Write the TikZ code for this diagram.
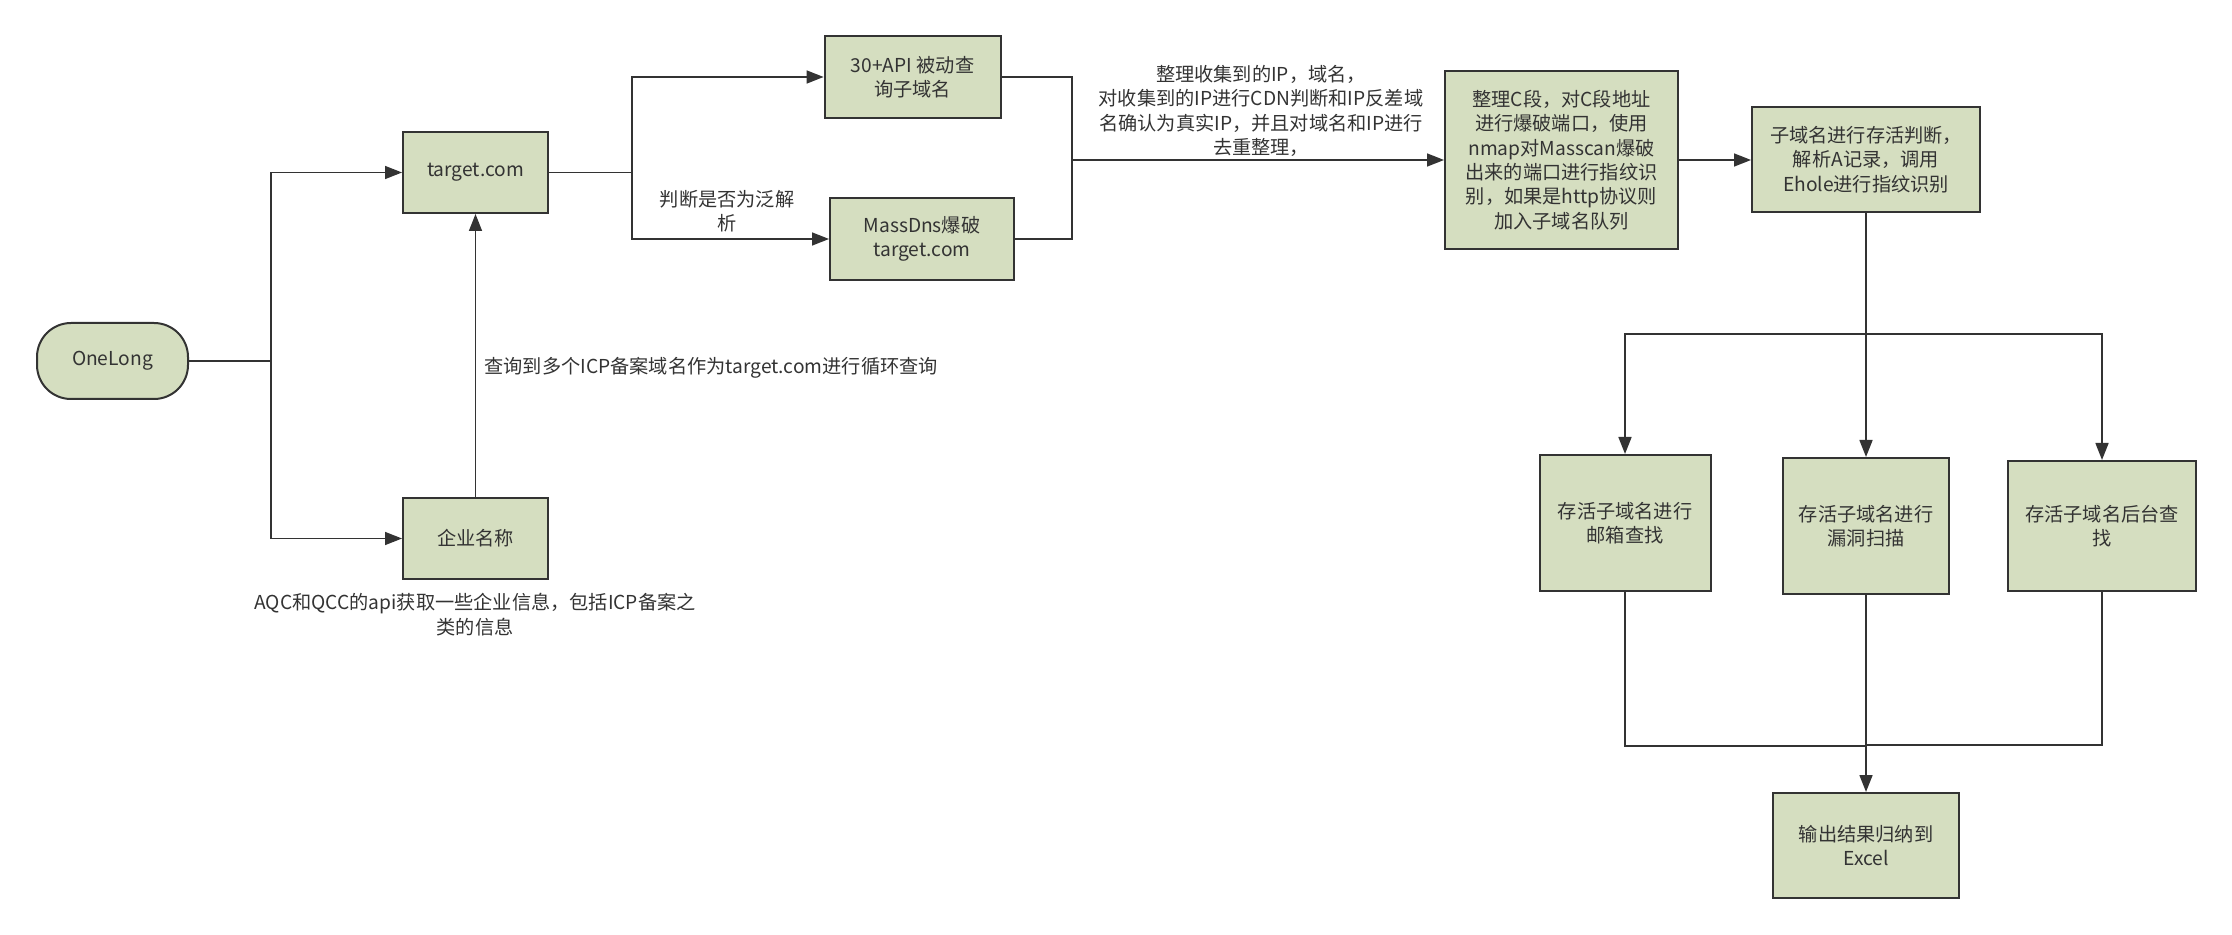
\documentclass[tikz,border=0pt]{standalone}
\usepackage{fontspec}
\setmainfont{Noto Sans CJK SC}
\usetikzlibrary{arrows.meta}
\definecolor{boxfill}{RGB}{213,222,192}
\definecolor{ink}{RGB}{51,51,51}
\begin{document}
\begin{tikzpicture}[x=0.5pt,y=-0.5pt,
  box/.style={draw=ink, line width=1pt, fill=boxfill, inner sep=0pt, align=center, text=ink,
    font=\fontsize{9.6}{12.2}\selectfont},
  conn/.style={draw=ink, line width=0.8pt},
  arr/.style={conn, -{Triangle[length=8.5pt,width=6.5pt]}},
  lbl/.style={text=ink, align=center, inner sep=0pt, font=\fontsize{9.6}{12.2}\selectfont}]
\useasboundingbox (0,0) rectangle (2232,935);

% nodes
\node[box, rounded corners=17pt, minimum width=75.5pt, minimum height=38pt] (one) at (112.5,361) {OneLong};
\node[box, minimum width=72.5pt, minimum height=40.5pt] (target) at (475.5,172.5) {target.com};
\node[box, minimum width=72.5pt, minimum height=40.5pt] (qiye) at (475.5,538.5) {企业名称};
\node[box, minimum width=88pt, minimum height=41pt] (api) at (912.6,77) {30+API 被动查\\询子域名};
\node[box, minimum width=92pt, minimum height=40.75pt] (mass) at (922,239) {MassDns爆破\\target.com};
\node[box, minimum width=116.5pt, minimum height=89pt] (cduan) at (1561.5,160) {整理C段，对C段地址\\进行爆破端口，使用\\nmap对Masscan爆破\\出来的端口进行指纹识\\别，如果是http协议则\\加入子域名队列};
\node[box, minimum width=114pt, minimum height=52.5pt] (alive) at (1866,159.5) {子域名进行存活判断，\\解析A记录，调用\\Ehole进行指纹识别};
\node[box, minimum width=85.5pt, minimum height=68pt] (mail) at (1625,523) {存活子域名进行\\邮箱查找};
\node[box, minimum width=83pt, minimum height=68pt] (vuln) at (1866,526) {存活子域名进行\\漏洞扫描};
\node[box, minimum width=94pt, minimum height=65pt] (admin) at (2102,526) {存活子域名后台查\\找};
\node[box, minimum width=93.25pt, minimum height=52.5pt] (excel) at (1866,845.5) {输出结果归纳到\\Excel};

% labels
\node[lbl, anchor=west] (l1) at (484,368) {查询到多个ICP备案域名作为target.com进行循环查询};
\node[lbl] (l2) at (475,614.5) {AQC和QCC的api获取一些企业信息，包括ICP备案之\\类的信息};
\node[lbl] (l3) at (727,211) {判断是否为泛解\\析};
\node[lbl] (l4) at (1261,111) {整理收集到的IP，域名，\\对收集到的IP进行CDN判断和IP反差域\\名确认为真实IP，并且对域名和IP进行\\去重整理，};

% junctions
\coordinate (j1) at (271,361);
\coordinate (j2) at (632,172.5);
\coordinate (j3) at (1072,160);
\coordinate (j3t) at (1072,77);
\coordinate (j3b) at (1072,239);
\coordinate (j4) at (1866,334);
\coordinate (j5a) at (1625,746);
\coordinate (j5c) at (2102,745);
\coordinate (j5) at (1866,746);
\coordinate (j5d) at (1866,745);

% connectors
\draw[conn] (one.east) -- (j1);
\draw[arr] (j1) |- (target.west);
\draw[arr] (j1) |- (qiye.west);
\draw[arr] (qiye.north) -- (target.south);
\draw[conn] (target.east) -- (j2);
\draw[arr] (j2) |- (api.west);
\draw[arr] (j2) |- (mass.west);
\draw[conn] (api.east) -- (j3t) -- (j3b) -- (mass.east);
\draw[arr] (j3) -- (cduan.west);
\draw[arr] (cduan.east) -- (alive.west |- cduan.east);
\draw[conn] (alive.south) -- (j4);
\draw[arr] (j4) -| (mail.north);
\draw[arr] (j4) -- (vuln.north);
\draw[arr] (j4) -| (admin.north);
\draw[conn] (mail.south) -- (j5a) -- (j5);
\draw[conn] (admin.south) -- (j5c) -- (j5d);
\draw[arr] (vuln.south) -- (excel.north);
\end{tikzpicture}
\end{document}
